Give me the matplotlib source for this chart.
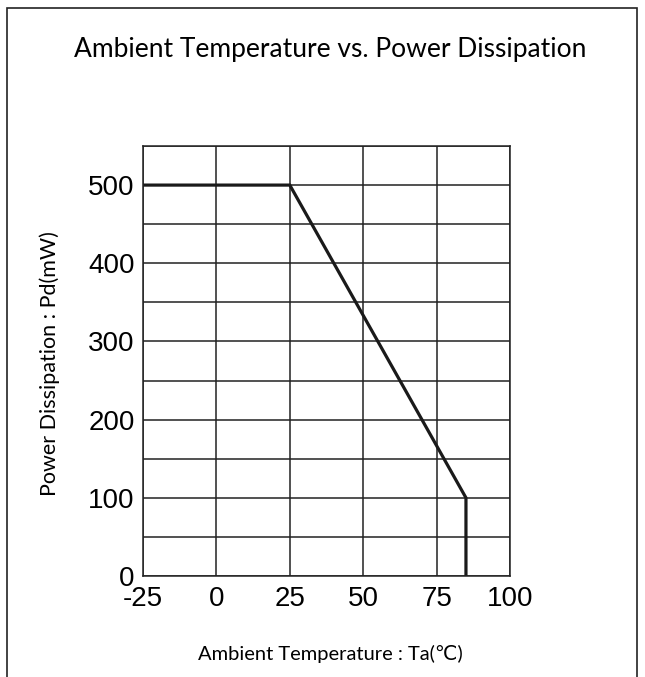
import matplotlib
matplotlib.use("Agg")
import matplotlib.pyplot as plt
from matplotlib.patches import Rectangle

plt.rcParams["axes.unicode_minus"] = False

# derating curve
temp = [-25, 25, 85, 85]
power = [500, 500, 100, 0]

x_ticks = [-25, 0, 25, 50, 75, 100]
y_ticks = [0, 100, 200, 300, 400, 500]
y_minor = [50, 150, 250, 350, 450, 550]

title = "Ambient Temperature vs. Power Dissipation"
xlabel = "Ambient Temperature : Ta(\u2103)"
ylabel = "Power Dissipation : Pd(mW)"

label_font = ["Lato", "DejaVu Sans"]

fig = plt.figure(figsize=(6.45, 6.77), dpi=100)

# outer frame, bottom edge runs off the picture
fig.patches.append(Rectangle((7 / 645, -0.05), 630 / 645, 1.05 - 8 / 677,
                             transform=fig.transFigure, fill=False,
                             edgecolor="#222222", linewidth=1.2))

ax = fig.add_axes([143 / 645, 1 - 576 / 677, 367 / 645, 430 / 677])
ax.plot(temp, power, color="#1a1a1a", linewidth=2.3, solid_joinstyle="miter")

ax.set_xlim(-25, 100)
ax.set_ylim(0, 550)
ax.set_xticks(x_ticks)
ax.set_yticks(y_ticks)
ax.set_yticks(y_minor, minor=True)
ax.grid(True, which="both", color="#222222", linewidth=1.1)
ax.tick_params(which="both", length=0)
ax.tick_params(axis="x", pad=7)
ax.tick_params(axis="y", pad=6)
for lab in ax.get_xticklabels() + ax.get_yticklabels():
    lab.set_fontfamily("Liberation Sans")
    lab.set_fontsize(20)
for s in ax.spines.values():
    s.set_color("#222222")
    s.set_linewidth(1.1)

fig.text(330 / 645, 1 - 57 / 677, title, ha="center", va="baseline",
         fontsize=19, family=label_font)
fig.text(330 / 645, 1 - 660 / 677, xlabel, ha="center", va="baseline",
         fontsize=14.5, family=label_font)
fig.text(50 / 645, 1 - 364 / 677, ylabel, ha="center", va="center",
         rotation=90, fontsize=15.5, family=label_font)

fig.savefig("out.png", dpi=100)
